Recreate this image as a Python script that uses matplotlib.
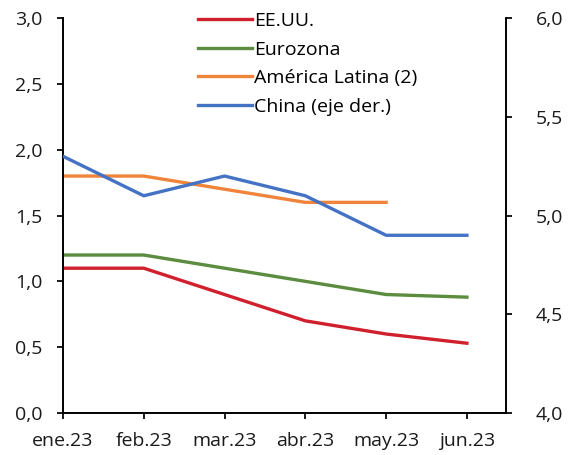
import matplotlib
matplotlib.use("Agg")
import matplotlib.pyplot as plt
from matplotlib.ticker import FuncFormatter

plt.rcParams['font.family'] = ['Open Sans', 'DejaVu Sans']
plt.rcParams['font.size'] = 14

meses = ['ene.23', 'feb.23', 'mar.23', 'abr.23', 'may.23', 'jun.23']
eeuu = [1.1, 1.1, 0.9, 0.7, 0.6, 0.53]
eurozona = [1.2, 1.2, 1.1, 1.0, 0.9, 0.88]
latam = [1.8, 1.8, 1.7, 1.6, 1.6]
china = [5.3, 5.1, 5.2, 5.1, 4.9, 4.9]

c_rojo = '#D0202E'
c_verde = '#5B8C3F'
c_naranja = '#F0843A'
c_azul = '#4472C4'

fig = plt.figure(figsize=(5.69, 4.55), dpi=100)
ax = fig.add_axes([0.1107, 0.0923, 0.778, 0.868])
ax2 = ax.twinx()

x = list(range(len(meses)))
lw = 2.4
l1, = ax.plot(x, eeuu, color=c_rojo, lw=lw, label='EE.UU.')
l2, = ax.plot(x, eurozona, color=c_verde, lw=lw, label='Eurozona')
l3, = ax.plot(x[:len(latam)], latam, color=c_naranja, lw=lw, label='América Latina (2)')
l4, = ax2.plot(x, china, color=c_azul, lw=lw, label='China (eje der.)')

ax.set_xlim(0, 5.48)
ax.set_ylim(0, 3.0)
ax2.set_ylim(4.0, 6.0)
ax.set_xticks(x)
ax.set_xticklabels(meses)
ax.set_yticks([0, 0.5, 1.0, 1.5, 2.0, 2.5, 3.0])
ax2.set_yticks([4.0, 4.5, 5.0, 5.5, 6.0])

coma = FuncFormatter(lambda v, p: f'{v:.1f}'.replace('.', ','))
ax.yaxis.set_major_formatter(coma)
ax2.yaxis.set_major_formatter(coma)

for a in (ax, ax2):
    a.spines['top'].set_visible(False)
    for s in a.spines.values():
        s.set_linewidth(1.4)
    a.tick_params(width=1.4, length=4.5, labelsize=14, colors='#1a1a1a')
ax.spines['right'].set_visible(False)
ax2.spines['left'].set_visible(False)
ax2.spines['bottom'].set_visible(False)
ax.tick_params(axis='y', pad=10.5)
ax2.tick_params(axis='y', pad=17)
ax.tick_params(axis='x', pad=9)

fig.legend(handles=[l1, l2, l3, l4], loc='upper left',
           bbox_to_anchor=(0.318, 1.012), frameon=False,
           handlelength=2.75, handletextpad=0.1, labelspacing=0.54,
           fontsize=14)

fig.savefig('out.png', dpi=100)
